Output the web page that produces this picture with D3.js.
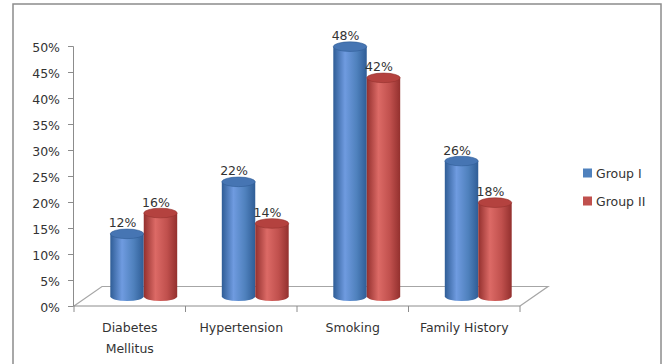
<!DOCTYPE html>
<html><head><meta charset="utf-8">
<script src="https://cdn.jsdelivr.net/npm/d3@7"></script>
<style>body{margin:0;background:#fff}svg{display:block}text{font-family:"DejaVu Sans",sans-serif;fill:#333}</style>
</head><body>
<script>
const categories = [["Diabetes","Mellitus"],["Hypertension"],["Smoking"],["Family History"]];
const catKeys = ["Diabetes Mellitus","Hypertension","Smoking","Family History"];
const groups = ["Group I","Group II"];
const groupI = [12, 22, 48, 26];
const groupII = [16, 14, 42, 18];
const yTicks = [0,5,10,15,20,25,30,35,40,45,50];
const colors = {"Group I":{base:"#4F81BD",dark:"#2f5d96",light:"#6f9be0",top:"#4675b3"},
                "Group II":{base:"#C0504D",dark:"#93302e",light:"#dc6a66",top:"#b4423f"}};

const W=665,H=364, FS=12.5;
const svg=d3.select("body").append("svg").attr("width",W).attr("height",H);
// frame
svg.append("rect").attr("x",13).attr("y",4).attr("width",648).attr("height",380)
  .attr("fill","#fff").attr("stroke","#8c8c8c").attr("stroke-width",1.5);

const x0=d3.scaleBand().domain(catKeys).range([74,520]).padding(0);
const x1=d3.scaleBand().domain(groups).range([x0.bandwidth()*0.2,x0.bandwidth()*0.8]).padding(0);
const y=d3.scaleLinear().domain([0,50]).range([306,46]);
const depthX=28, depthY=-19.5;
const dx=depthX/2, dy=depthY/2;

const defs=svg.append("defs");
groups.forEach((g,i)=>{
  const c=colors[g];
  const gr=defs.append("linearGradient").attr("id","grad"+i).attr("x1","0").attr("x2","1").attr("y1","0").attr("y2","0");
  gr.append("stop").attr("offset","0%").attr("stop-color",c.dark);
  gr.append("stop").attr("offset","35%").attr("stop-color",c.light);
  gr.append("stop").attr("offset","70%").attr("stop-color",c.base);
  gr.append("stop").attr("offset","100%").attr("stop-color",c.dark);
});

// floor
svg.append("path").attr("d",`M${x0.range()[0]},${y(0)}L${x0.range()[0]+depthX},${y(0)+depthY}L${x0.range()[1]+depthX},${y(0)+depthY}L${x0.range()[1]},${y(0)}`)
  .attr("fill","none").attr("stroke","#a6a6a6").attr("stroke-width",1.2);

// y axis
const yAxis=d3.axisLeft(y).tickValues(yTicks).tickFormat(d=>d+"%").tickSize(5).tickPadding(8);
const ya=svg.append("g").attr("transform","translate(73,0)").call(yAxis);
ya.select(".domain").attr("stroke","#8c8c8c");
ya.selectAll(".tick line").attr("stroke","#8c8c8c");
ya.selectAll("text").attr("font-size",FS).attr("font-family","DejaVu Sans").attr("fill","#333").attr("dy","0.4em");

// x axis
const xa=svg.append("g").attr("transform",`translate(0,${y(0)})`);
xa.append("line").attr("x1",x0.range()[0]).attr("x2",x0.range()[1]).attr("stroke","#8c8c8c");
const tickX=catKeys.map(k=>x0(k)).concat([x0.range()[1]]);
xa.selectAll(".tk").data(tickX).join("line").attr("x1",d=>d).attr("x2",d=>d).attr("y1",0).attr("y2",6).attr("stroke","#8c8c8c");
catKeys.forEach((k,i)=>{
  const t=xa.append("text").attr("x",x0(k)+x0.bandwidth()/2).attr("y",25.5).attr("text-anchor","middle").attr("font-size",FS);
  categories[i].forEach((ln,j)=>t.append("tspan").attr("x",x0(k)+x0.bandwidth()/2).attr("dy",j?21:0).text(ln));
});

// cylinders
const ry=4.8;
const data=[];
catKeys.forEach((k,i)=>{data.push({k,g:"Group I",gi:0,v:groupI[i]});data.push({k,g:"Group II",gi:1,v:groupII[i]});});
const bars=svg.append("g");
data.forEach(d=>{
  const left=x0(d.k)+x1(d.g)+dx, w=x1.bandwidth(), rx=w/2, cx=left+rx;
  const yb=y(0)+dy, yt=y(d.v)+dy;
  bars.append("path").attr("d",`M${left},${yt}L${left},${yb}A${rx},${ry} 0 0 0 ${left+w},${yb}L${left+w},${yt}Z`)
    .attr("fill",`url(#grad${d.gi})`);
  bars.append("ellipse").attr("cx",cx).attr("cy",yt).attr("rx",rx).attr("ry",ry)
    .attr("fill",colors[d.g].top).attr("stroke",colors[d.g].dark).attr("stroke-width",0.6);
  svg.append("text").attr("x",cx-4.5).attr("y",yt-6.5).attr("text-anchor","middle").attr("font-size",FS).text(d.v+"%");
});

// legend
const lg=svg.append("g");
groups.forEach((g,i)=>{
  lg.append("rect").attr("x",583).attr("y",168.5+i*28).attr("width",9).attr("height",9).attr("fill",colors[g].base);
  lg.append("text").attr("x",596).attr("y",177.5+i*28).attr("font-size",FS).text(g);
});
</script>
</body></html>
